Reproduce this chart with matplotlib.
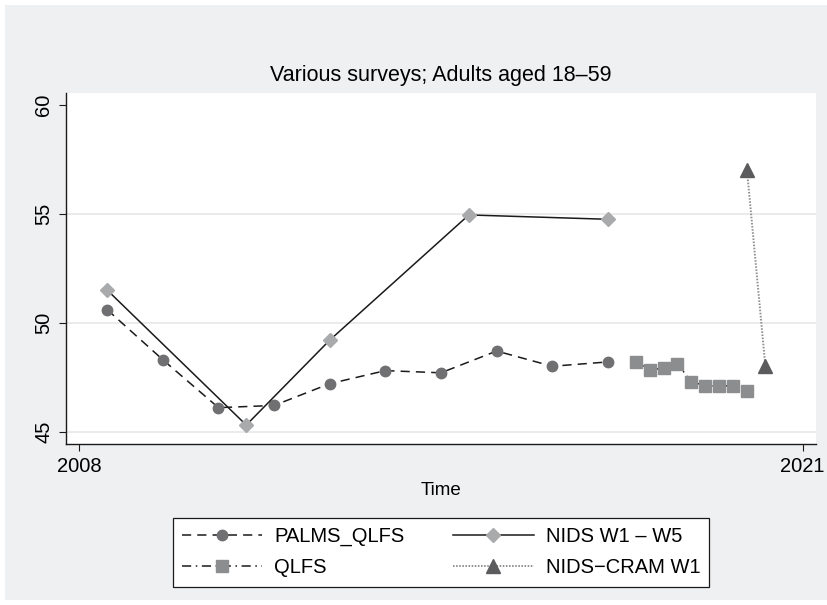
import matplotlib.pyplot as plt
from matplotlib.patches import Rectangle

plt.rcParams['font.family'] = ['Liberation Sans', 'DejaVu Sans']

# PALMS_QLFS (annual)
palms_x = [2008.5, 2009.5, 2010.5, 2011.5, 2012.5, 2013.5, 2014.5, 2015.5, 2016.5, 2017.5]
palms_y = [50.6, 48.3, 46.1, 46.2, 47.2, 47.8, 47.7, 48.7, 48.0, 48.2]

# QLFS (quarterly)
qlfs_x = [2018.0, 2018.25, 2018.5, 2018.75, 2019.0, 2019.25, 2019.5, 2019.75, 2020.0]
qlfs_y = [48.2, 47.85, 47.9, 48.1, 47.3, 47.1, 47.1, 47.1, 46.85]

# NIDS waves
nids_x = [2008.5, 2011.0, 2012.5, 2015.0, 2017.5]
nids_y = [51.5, 45.3, 49.2, 54.95, 54.75]

# NIDS-CRAM
cram_x = [2020.0, 2020.33]
cram_y = [57.0, 48.0]

yticks = [45, 50, 55, 60]
gridlines = [45, 50, 55]
xticks = [2008, 2021]

fig = plt.figure(figsize=(8.28, 6.05), dpi=100, facecolor='white')
fig.patches.append(Rectangle((5/828, 5/605), 1 - 5/828, 1 - 10/605,
                             transform=fig.transFigure, facecolor='#eff0f2',
                             edgecolor='none', zorder=-10))

ax = fig.add_axes([66/828, 1 - 444/605, (816 - 66)/828, (444 - 93)/605])
ax.set_facecolor('white')

ax.plot(palms_x, palms_y, color='#1a1a1a', lw=1.1, dashes=(6, 4),
        marker='o', ms=7.5, mfc='#707073', mec='#707073', label='PALMS_QLFS')
ax.plot(nids_x, nids_y, color='#1a1a1a', lw=1.1, linestyle='-',
        marker='D', ms=7.2, mfc='#a9aaac', mec='#a9aaac', label='NIDS W1 \u2013 W5')
ax.plot(qlfs_x, qlfs_y, color='#1a1a1a', lw=1.1, dashes=(6, 3, 1, 3),
        marker='s', ms=8.5, mfc='#8c8d8f', mec='#8c8d8f', label='QLFS')
ax.plot(cram_x, cram_y, color='#8f8f8f', lw=1.4, dashes=(0.8, 0.8),
        marker='^', ms=9.5, mfc='#5b5b5d', mec='#5b5b5d', label='NIDS\u2212CRAM W1')

ax.set_xlim(2007.76, 2021.24)
ax.set_ylim(44.43, 60.55)
ax.set_yticks(yticks)
ax.set_yticklabels([str(v) for v in yticks], rotation=90, va='center', fontsize=14.5)
ax.set_xticks(xticks)
ax.set_xticklabels([str(v) for v in xticks], fontsize=14.5)
ax.tick_params(length=5, width=0.8, color='#1a1a1a', pad=4)
for g in gridlines:
    ax.axhline(g, color='#e8e8e8', lw=1.2, zorder=0)
for s in ['top', 'right']:
    ax.spines[s].set_visible(False)
for s in ['left', 'bottom']:
    ax.spines[s].set_color('#1a1a1a')
    ax.spines[s].set_linewidth(1.0)

ax.set_title('Various surveys; Adults aged 18\u201359', fontsize=15.5, pad=9)
ax.set_xlabel('Time', fontsize=13.5, labelpad=5)

h, l = ax.get_legend_handles_labels()
order = [0, 2, 1, 3]
leg = fig.legend([h[i] for i in order], [l[i] for i in order], ncol=2,
                 loc='upper center', bbox_to_anchor=(441/828, 1 - 508/605),
                 fontsize=14.5, handlelength=4.0, handletextpad=0.6,
                 columnspacing=2.4, labelspacing=0.6, borderpad=0.45,
                 fancybox=False, framealpha=1, edgecolor='#1a1a1a')
leg.get_frame().set_linewidth(0.9)

fig.savefig('out.png', dpi=100, facecolor=fig.get_facecolor())
